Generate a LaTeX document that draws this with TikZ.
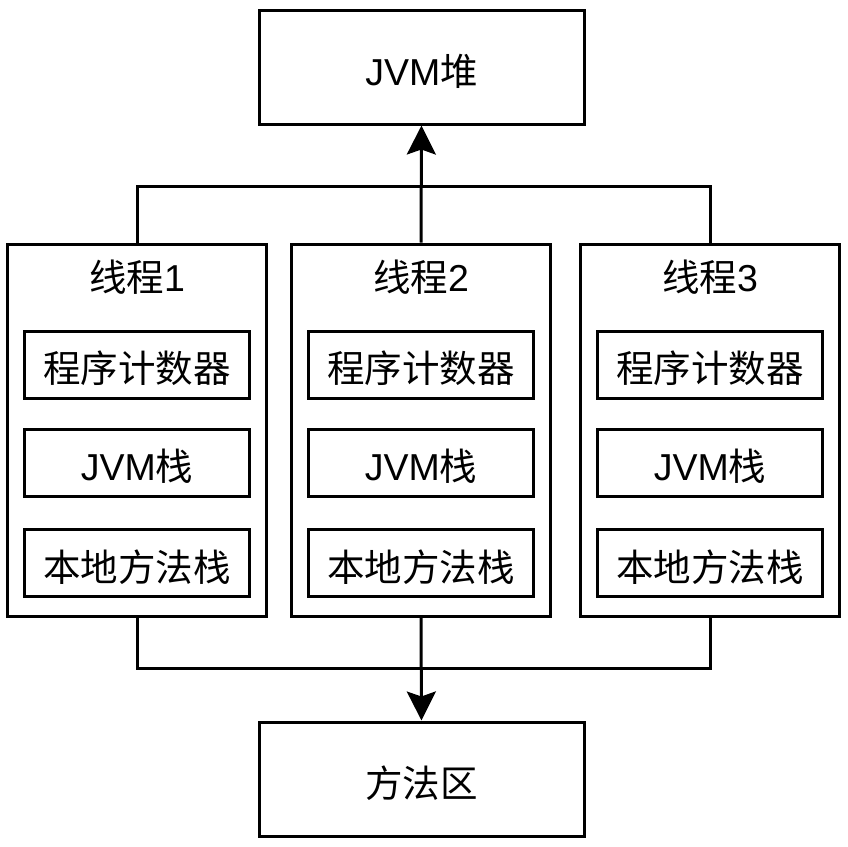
\documentclass[tikz,border=0pt]{standalone}
\usepackage{fontspec}
\setmainfont{Liberation Sans}
\newfontfamily\cjk{Noto Sans CJK SC}
\usetikzlibrary{arrows.meta}
\newcommand{\lowtxt}[1]{\raisebox{-4pt}[\height][\depth]{#1}}
\begin{document}
\begin{tikzpicture}[x=1pt,y=-1pt,
  box/.style={draw=black,line width=3pt,fill=white,inner sep=0pt,font=\fontsize{37.5}{40}\selectfont},
  bigbox/.style={box,minimum width=325pt,minimum height=114pt},
  thread/.style={draw=black,line width=3pt,minimum width=259pt,minimum height=372pt,inner sep=0pt},
  inner/.style={box,minimum width=225pt,minimum height=67pt},
  title/.style={font=\fontsize{37.5}{40}\selectfont,inner sep=0pt},
  conn/.style={line width=3pt,draw=black},
  tip/.style={-{Stealth[length=29pt,width=29pt,inset=5pt]}}]
\useasboundingbox (0,0) rectangle (848,846);
\node[bigbox] (heap) at (421.5,67) {\lowtxt{JVM{\cjk 堆}}};
\node[bigbox] (method) at (421.5,779) {\lowtxt{\cjk 方法区}};
\foreach \i/\x in {1/137,2/421,3/710}{
  \node[thread] (t\i) at (\x,430) {};
  \node[title] (ttl\i) at (\x,277) {{\cjk 线程}\i};
  \node[inner] (pc\i) at (\x,364.5) {\lowtxt{\cjk 程序计数器}};
  \node[inner] (js\i) at (\x,462.5) {\lowtxt{JVM{\cjk 栈}}};
  \node[inner] (ns\i) at (\x,563) {\lowtxt{\cjk 本地方法栈}};
}
\coordinate (tl) at (137,186);
\coordinate (tr) at (710,186);
\coordinate (bl) at (137,668);
\coordinate (br) at (710,668);
\draw[conn] (t1.north) -- (tl) -- (tr) -- (t3.north);
\draw[conn,tip] (t2.north) -- (heap.south);
\draw[conn] (t1.south) -- (bl) -- (br) -- (t3.south);
\draw[conn,tip] (t2.south) -- (method.north);
\end{tikzpicture}
\end{document}
